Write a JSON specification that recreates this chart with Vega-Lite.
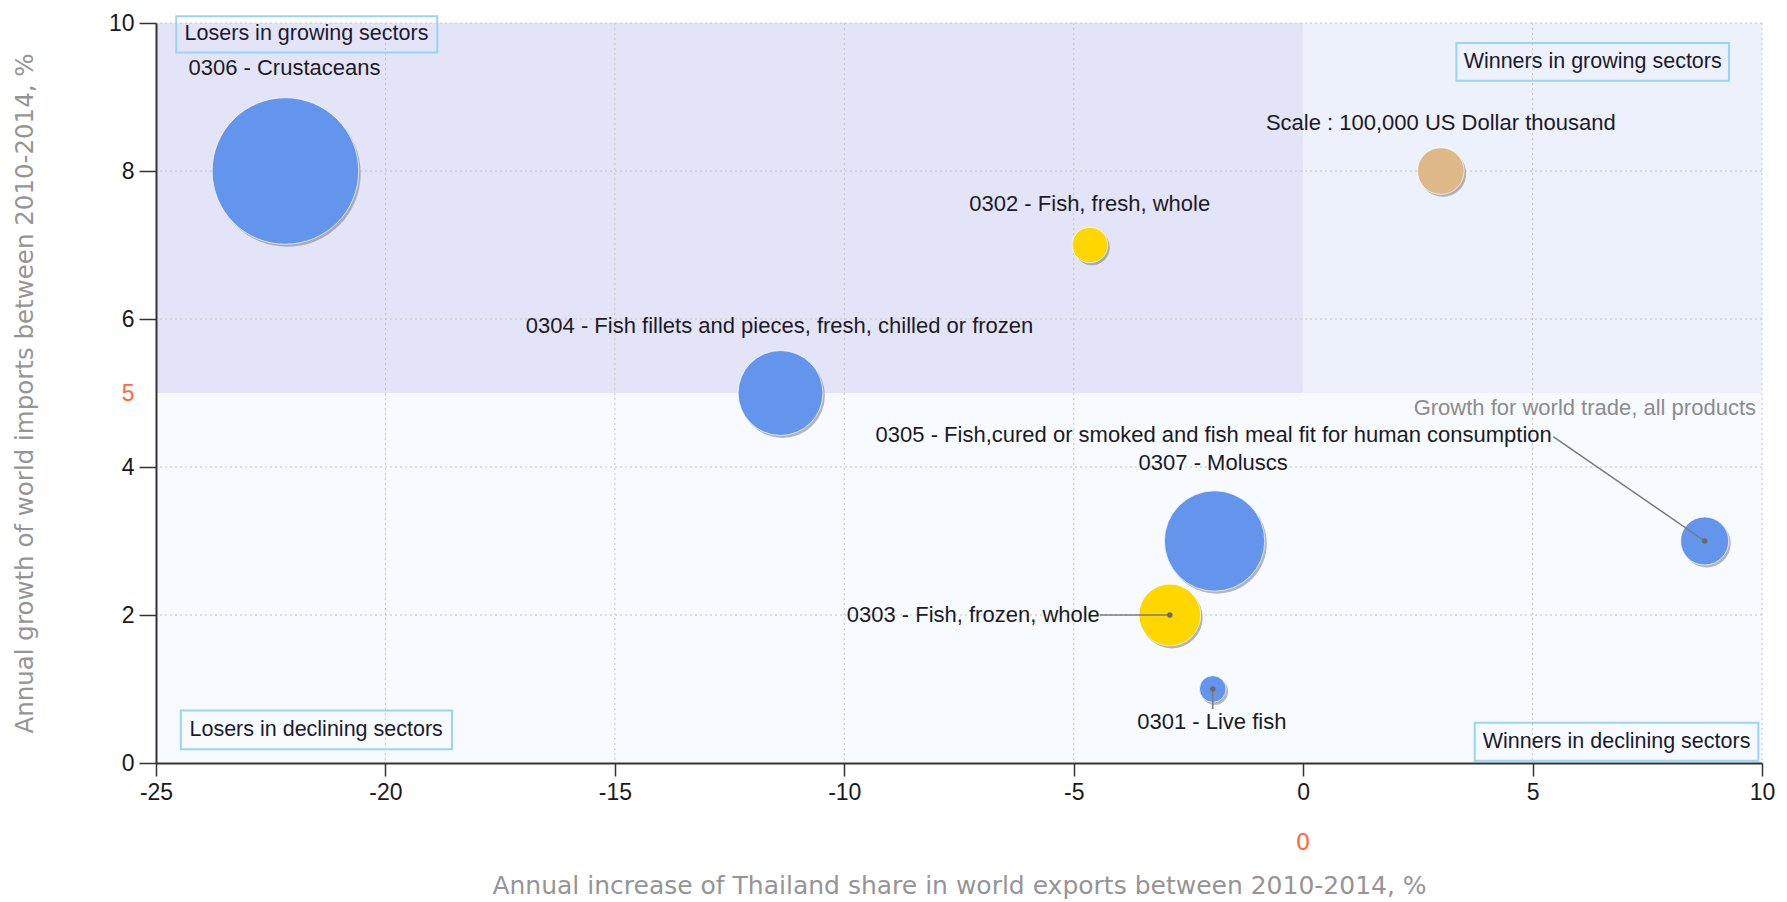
{
  "$schema": "https://vega.github.io/schema/vega-lite/v6.json",
  "autosize": "none",
  "width": 1606,
  "height": 740,
  "padding": {"left": 156, "top": 23, "right": 25, "bottom": 139},
  "background": "#ffffff",
  "config": {"view": {"stroke": null}, "font": "Liberation Sans"},
  "resolve": {"scale": {"color": "independent"}},
  "datasets": {
    "zones": [
      {"zone": "growing-losers", "x0": -25, "x1": 0, "y0": 5, "y1": 10},
      {"zone": "growing-winners", "x0": 0, "x1": 10, "y0": 5, "y1": 10},
      {"zone": "declining", "x0": -25, "x1": 10, "y0": 0, "y1": 5}
    ],
    "quadrant_labels": [
      {"label": "Losers in growing sectors", "x0": -24.56, "x1": -18.87, "y0": 10.09, "y1": 9.6, "cx": -21.72, "cy": 9.85},
      {"label": "Winners in growing sectors", "x0": 3.34, "x1": 9.28, "y0": 9.73, "y1": 9.22, "cx": 6.31, "cy": 9.475},
      {"label": "Losers in declining sectors", "x0": -24.46, "x1": -18.55, "y0": 0.71, "y1": 0.185, "cx": -21.51, "cy": 0.446},
      {"label": "Winners in declining sectors", "x0": 3.74, "x1": 9.92, "y0": 0.545, "y1": 0.031, "cx": 6.83, "cy": 0.288}
    ],
    "products": [
      {"code": "0306", "label": "0306 - Crustaceans", "kind": "product", "x": -22.18, "y": 8, "value": 985000, "lx": -22.2, "ly": 9.39},
      {"code": "0302", "label": "0302 - Fish, fresh, whole", "kind": "highlight", "x": -4.645, "y": 7, "value": 58000, "lx": -4.65, "ly": 7.56},
      {"code": "0304", "label": "0304 - Fish fillets and pieces, fresh, chilled or frozen", "kind": "product", "x": -11.39, "y": 5, "value": 330000, "lx": -11.41, "ly": 5.9},
      {"code": "0307", "label": "0307 - Moluscs", "kind": "product", "x": -1.93, "y": 3, "value": 462000, "lx": -1.96, "ly": 4.05},
      {"code": "0305", "label": "0305 - Fish,cured or smoked and fish meal fit for human consumption", "kind": "product", "x": 8.75, "y": 3, "value": 106000, "lx": 5.42, "ly": 4.43, "lead_x": 5.45, "lead_y": 4.41},
      {"code": "0303", "label": "0303 - Fish, frozen, whole", "kind": "highlight", "x": -2.906, "y": 2, "value": 175000, "lx": -4.43, "ly": 2.0, "lead_x": -4.43, "lead_y": 2.0},
      {"code": "0301", "label": "0301 - Live fish", "kind": "product", "x": -1.97, "y": 1, "value": 32500, "lx": -1.99, "ly": 0.56, "lead_x": -1.97, "lead_y": 0.73},
      {"code": "scale", "label": "Scale : 100,000 US Dollar thousand", "kind": "scale", "x": 3.0, "y": 8, "value": 100000, "lx": 3.0, "ly": 8.65}
    ]
  },
  "layer": [
    {
      "data": {"name": "zones"},
      "mark": {"type": "rect"},
      "encoding": {
        "x": {
          "field": "x0", "type": "quantitative",
          "scale": {"domain": [-25, 10], "nice": false, "zero": false},
          "axis": {
            "values": [-25, -20, -15, -10, -5, 0, 5, 10],
            "labelExpr": "datum.value + ''",
            "grid": false,
            "zindex": 1,
            "domainColor": "#333333", "domainWidth": 2,
            "tickColor": "#333333", "tickWidth": 1.5, "tickSize": 13,
            "labelFont": "Liberation Sans", "labelFontSize": 23, "labelColor": "#1a1a1a",
            "labelPadding": 5, "labelFlush": false,
            "title": "Annual increase of Thailand share in world exports between 2010-2014, %",
            "titleFont": "DejaVu Sans", "titleFontSize": 25, "titleFontWeight": "normal",
            "titleColor": "#959595", "titleBaseline": "middle", "titleY": 122
          }
        },
        "x2": {"field": "x1"},
        "y": {
          "field": "y0", "type": "quantitative",
          "scale": {"domain": [0, 10], "nice": false, "zero": false},
          "axis": {
            "values": [0, 2, 4, 5, 6, 8, 10],
            "labelExpr": "datum.value + ''",
            "grid": false,
            "zindex": 1,
            "domainColor": "#333333", "domainWidth": 2,
            "tickColor": "#333333", "tickWidth": 1.5, "tickSize": 17,
            "tickOpacity": {"condition": {"test": "datum.value === 5", "value": 0}, "value": 1},
            "labelFont": "Liberation Sans", "labelFontSize": 23,
            "labelColor": {"condition": {"test": "datum.value === 5", "value": "#FF6A3C"}, "value": "#1a1a1a"},
            "labelPadding": 5,
            "title": "Annual growth of world imports between 2010-2014, %",
            "titleFont": "DejaVu Sans", "titleFontSize": 24.5, "titleFontWeight": "normal",
            "titleColor": "#959595", "titleBaseline": "middle", "titleX": -131, "titleY": 370, "titleAngle": 270, "titleAlign": "center"
          }
        },
        "y2": {"field": "y1"},
        "color": {
          "field": "zone", "type": "nominal", "legend": null,
          "scale": {"domain": ["growing-losers", "growing-winners", "declining"], "range": ["#E4E4F8", "#EDF1FC", "#F7FAFE"]}
        }
      }
    },
    {
      "data": {"values": [{"g": -20}, {"g": -15}, {"g": -10}, {"g": -5}, {"g": 5}, {"g": 10}]},
      "mark": {"type": "rule", "color": "#C4C4C4", "strokeWidth": 1, "strokeDash": [2, 3]},
      "encoding": {"x": {"field": "g", "type": "quantitative"}}
    },
    {
      "data": {"values": [{"g": 2}, {"g": 4}, {"g": 6}, {"g": 8}, {"g": 10}]},
      "mark": {"type": "rule", "color": "#C4C4C4", "strokeWidth": 1, "strokeDash": [2, 3]},
      "encoding": {"y": {"field": "g", "type": "quantitative"}}
    },
    {
      "mark": {"type": "rule", "color": "#FF6A3C", "strokeWidth": 2},
      "encoding": {"x": {"datum": 0}}
    },
    {
      "mark": {"type": "rule", "color": "#FF6A3C", "strokeWidth": 2},
      "encoding": {"y": {"datum": 5}}
    },
    {
      "data": {"name": "quadrant_labels"},
      "mark": {"type": "rect", "fillOpacity": 0, "stroke": "#9AD4F5", "strokeWidth": 2},
      "encoding": {
        "x": {"field": "x0", "type": "quantitative"},
        "x2": {"field": "x1"},
        "y": {"field": "y0", "type": "quantitative"},
        "y2": {"field": "y1"}
      }
    },
    {
      "data": {"name": "quadrant_labels"},
      "mark": {"type": "text", "font": "Liberation Sans", "fontSize": 21.5, "color": "#1c1a2e", "align": "center", "baseline": "middle"},
      "encoding": {
        "x": {"field": "cx", "type": "quantitative"},
        "y": {"field": "cy", "type": "quantitative"},
        "text": {"field": "label"}
      }
    },
    {
      "data": {"name": "products"},
      "mark": {"type": "circle", "color": "#6f6f6f", "opacity": 0.5, "xOffset": 2, "yOffset": 2.5},
      "encoding": {
        "x": {"field": "x", "type": "quantitative"},
        "y": {"field": "y", "type": "quantitative"},
        "size": {"field": "value", "type": "quantitative", "legend": null, "scale": {"type": "linear", "domain": [0, 1000000], "range": [0, 21800]}}
      }
    },
    {
      "data": {"name": "products"},
      "mark": {"type": "circle", "opacity": 1, "stroke": "#ffffff", "strokeWidth": 1, "strokeOpacity": 0.7},
      "encoding": {
        "x": {"field": "x", "type": "quantitative"},
        "y": {"field": "y", "type": "quantitative"},
        "size": {"field": "value", "type": "quantitative", "legend": null, "scale": {"type": "linear", "domain": [0, 1000000], "range": [0, 21800]}},
        "fill": {
          "field": "kind", "type": "nominal", "legend": null,
          "scale": {"domain": ["product", "highlight", "scale"], "range": ["#6495ED", "#FFD700", "#DEB887"]}
        }
      }
    },
    {
      "data": {"name": "products"},
      "transform": [{"filter": "isValid(datum.lead_x)"}],
      "mark": {"type": "rule", "color": "#7a7a7a", "strokeWidth": 1.5},
      "encoding": {
        "x": {"field": "lead_x", "type": "quantitative"},
        "x2": {"field": "x"},
        "y": {"field": "lead_y", "type": "quantitative"},
        "y2": {"field": "y"}
      }
    },
    {
      "data": {"name": "products"},
      "transform": [{"filter": "isValid(datum.lead_x)"}],
      "mark": {"type": "circle", "color": "#6a6a6a", "opacity": 1, "size": 30},
      "encoding": {
        "x": {"field": "x", "type": "quantitative"},
        "y": {"field": "y", "type": "quantitative"}
      }
    },
    {
      "data": {"name": "products"},
      "transform": [{"filter": "datum.code !== '0303' && datum.code !== '0305'"}],
      "mark": {"type": "text", "font": "Liberation Sans", "fontSize": 22, "color": "#1c1a24", "align": "center", "baseline": "middle"},
      "encoding": {
        "x": {"field": "lx", "type": "quantitative"},
        "y": {"field": "ly", "type": "quantitative"},
        "text": {"field": "label"}
      }
    },
    {
      "data": {"name": "products"},
      "transform": [{"filter": "datum.code === '0303' || datum.code === '0305'"}],
      "mark": {"type": "text", "font": "Liberation Sans", "fontSize": 22, "color": "#1c1a24", "align": "right", "baseline": "middle"},
      "encoding": {
        "x": {"field": "lx", "type": "quantitative"},
        "y": {"field": "ly", "type": "quantitative"},
        "text": {"field": "label"}
      }
    },
    {
      "data": {"values": [{"note": "Growth for world trade, all products"}]},
      "mark": {"type": "text", "font": "Liberation Sans", "fontSize": 22, "color": "#8c8c8c", "align": "right", "baseline": "middle", "dx": -6, "dy": 15},
      "encoding": {
        "x": {"datum": 10},
        "y": {"datum": 5},
        "text": {"field": "note"}
      }
    },
    {
      "data": {"values": [{"note": "0"}]},
      "mark": {"type": "text", "font": "DejaVu Sans", "fontSize": 23, "color": "#FF6A3C", "align": "center", "baseline": "middle", "dy": 80},
      "encoding": {
        "x": {"datum": 0},
        "y": {"datum": 0},
        "text": {"field": "note"}
      }
    }
  ]
}
